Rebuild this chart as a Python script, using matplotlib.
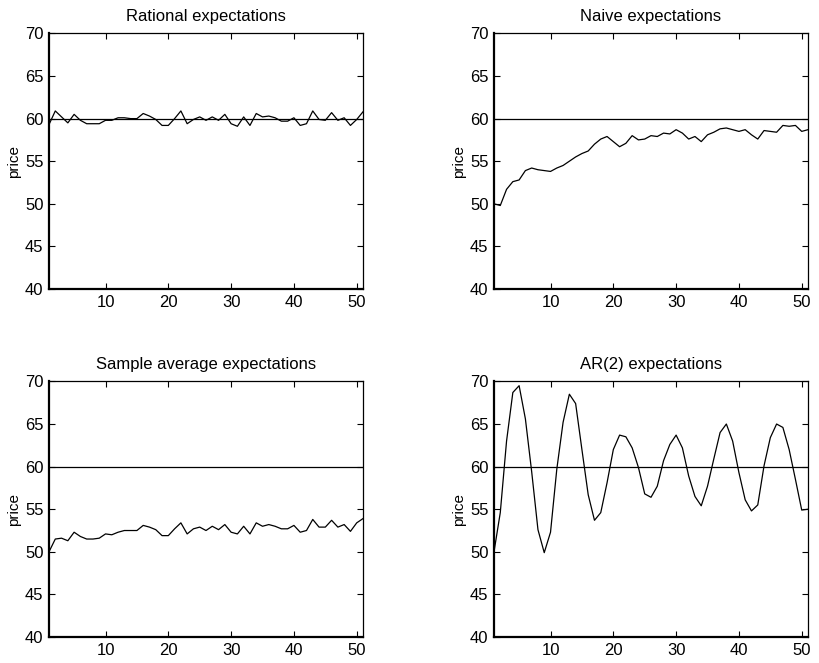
import numpy as np
import matplotlib as ml
ml.use("Agg")
import matplotlib.pyplot as plt

ml.rcParams.update({
    'font.family': ['Liberation Sans', 'DejaVu Sans'],
    'font.size': 12,
    'xtick.direction': 'in',
    'ytick.direction': 'in',
})

periods = np.arange(1, 52)
steady_state = 60

rational = [59.3, 60.9, 60.2, 59.5, 60.5, 59.8, 59.4, 59.4, 59.4, 59.8,
            59.8, 60.1, 60.1, 60.0, 60.0, 60.6, 60.3, 59.9, 59.2, 59.2,
            60.0, 60.9, 59.4, 59.9, 60.2, 59.8, 60.2, 59.8, 60.5, 59.4,
            59.1, 60.2, 59.2, 60.6, 60.2, 60.3, 60.1, 59.7, 59.7, 60.1,
            59.2, 59.4, 60.9, 59.9, 59.8, 60.7, 59.8, 60.1, 59.2, 59.9,
            60.8]

naive = [50.0, 49.8, 51.7, 52.6, 52.8, 53.9, 54.2, 54.0, 53.9, 53.8,
         54.2, 54.5, 55.0, 55.5, 55.9, 56.2, 57.0, 57.6, 57.9, 57.3,
         56.7, 57.1, 58.0, 57.5, 57.6, 58.0, 57.9, 58.3, 58.2, 58.7,
         58.3, 57.6, 57.9, 57.3, 58.1, 58.4, 58.8, 58.9, 58.7, 58.5,
         58.7, 58.1, 57.6, 58.6, 58.5, 58.4, 59.2, 59.1, 59.2, 58.5,
         58.7]

sample_avg = [50.0, 51.5, 51.6, 51.3, 52.3, 51.8, 51.5, 51.5, 51.6, 52.1,
              52.0, 52.3, 52.5, 52.5, 52.5, 53.1, 52.9, 52.6, 51.9, 51.9,
              52.7, 53.4, 52.1, 52.7, 52.9, 52.5, 53.0, 52.6, 53.2, 52.3,
              52.1, 53.0, 52.1, 53.4, 53.0, 53.2, 53.0, 52.7, 52.7, 53.1,
              52.3, 52.5, 53.8, 52.9, 52.9, 53.7, 52.9, 53.2, 52.4, 53.4,
              53.9]

ar2 = [50.0, 54.6, 63.0, 68.7, 69.5, 65.6, 59.4, 52.6, 49.9, 52.3,
       59.7, 65.2, 68.5, 67.4, 62.0, 56.7, 53.7, 54.6, 58.1, 62.0,
       63.7, 63.5, 62.2, 59.9, 56.8, 56.4, 57.7, 60.7, 62.6, 63.7,
       62.2, 58.9, 56.5, 55.4, 57.7, 60.9, 64.0, 65.0, 63.0, 59.3,
       56.1, 54.8, 55.5, 60.1, 63.4, 65.0, 64.6, 62.0, 58.5, 54.9,
       55.0]

panels = [
    ('Rational expectations', rational, [49 / 819, 0.5641]),
    ('Naive expectations', naive, [494 / 819, 0.5641]),
    ('Sample average expectations', sample_avg, [49 / 819, 0.0392]),
    ('AR(2) expectations', ar2, [494 / 819, 0.0392]),
]

fig = plt.figure(figsize=(8.19, 6.63), dpi=100)

for title, series, (x0, y0) in panels:
    ax = fig.add_axes([x0, y0, 314 / 819, 0.3855])
    ax.plot(periods, series, color='black', lw=0.9)
    ax.axhline(steady_state, color='black', lw=0.9)
    ax.set_xlim(1, 51)
    ax.set_ylim(40, 70)
    ax.set_xticks([10, 20, 30, 40, 50])
    ax.set_yticks(range(40, 71, 5))
    ax.tick_params(top=True, right=True, length=4, width=0.8, pad=4)
    for side in ['left', 'bottom']:
        ax.spines[side].set_linewidth(1.6)
    for side in ['top', 'right']:
        ax.spines[side].set_linewidth(0.9)
    ax.set_ylabel('price', fontsize=11, labelpad=3)
    ax.set_title(title, fontsize=12, pad=9)

plt.savefig('out.png', dpi=100)
